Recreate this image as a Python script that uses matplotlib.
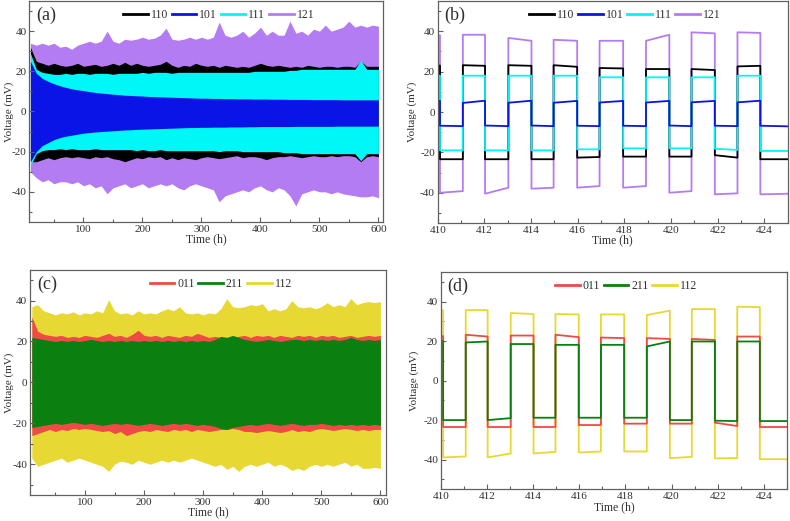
import matplotlib
matplotlib.use('Agg')
import matplotlib.pyplot as plt
from matplotlib.lines import Line2D
from matplotlib.ticker import MultipleLocator

plt.rcParams['font.family'] = ['Liberation Serif', 'DejaVu Serif']
plt.rcParams['font.size'] = 8
plt.rcParams['axes.unicode_minus'] = False

# ---- long-term cycling, envelopes sampled every 10 h (panels a, c) ----
t_env = list(range(10, 610, 10))

purple_hi = [34, 33, 34, 33, 34, 32, 32.5, 31, 33, 34, 35, 34, 35, 40, 35, 34, 36, 35.5, 36, 37,
             36, 36.5, 38, 41.5, 36, 35.5, 36, 37, 36, 37, 36, 37, 44.5, 38, 37, 38, 40, 37, 39, 42,
             38, 40, 38, 38, 45, 39, 40, 38, 41, 40, 43, 40, 41, 42, 45, 42, 43, 42, 43, 42.5]
purple_lo = [-30, -33, -35, -34, -36, -35, -35, -36, -35, -37, -36, -38, -37, -41, -38, -37, -36, -38, -37, -36,
             -38, -37, -36, -37, -36, -38, -39, -37, -36, -37, -38, -39, -45, -42, -41, -40, -39, -40, -38, -37,
             -39, -40, -38, -39, -42, -47, -41, -40, -39, -40, -40, -41, -40, -41, -41.5, -42, -42.5, -42.5, -42, -43]
black_hi = [32, 25, 24, 23, 24, 23, 22.5, 23, 24, 22.5, 23, 23.5, 22.5, 23, 24, 23, 24.5, 23, 24, 23,
            22.5, 23, 23.5, 25, 23, 22, 23, 22.5, 24, 23, 22.5, 23, 22, 23, 22.5, 22, 22.5, 22, 23, 24,
            23, 22.5, 23, 22.5, 22, 22.5, 22, 23, 22.5, 22, 22.5, 22.5, 22, 22.5, 22.5, 22, 25, 22.5, 22.5, 22.5]
black_lo = [-25, -25, -24, -23, -24, -23, -22.5, -23, -22.5, -23, -23.5, -22.5, -23, -22.5, -23.5, -24, -25, -24, -23, -23.5,
            -22.5, -23, -22.5, -24, -23, -24, -23, -23.5, -24, -23, -22.5, -23, -23.5, -23, -22.5, -22, -23, -22.5, -22.5, -23,
            -24, -23, -22.5, -22.5, -22, -22.5, -23, -22.5, -22, -22.5, -22.5, -22, -22.5, -22, -22, -22.5, -25, -22.5, -22, -22.5]
cyan_hi = [29, 21, 19.5, 19, 18.5, 18.5, 19, 18.5, 19, 19, 18.5, 19, 19, 19, 18.5, 19, 19, 19, 19, 19.5,
           19, 19.5, 19.5, 19.5, 19, 19.5, 19.5, 19.5, 19.5, 19.5, 19.5, 19.5, 19.5, 19.5, 19.5, 19.5, 19.5, 19.5, 20, 20,
           20, 20, 20, 20, 20.5, 20.5, 21, 21, 21, 21, 21, 21, 21, 21, 21, 21, 25.5, 21, 21, 21]
cyan_lo = [-27, -21, -19.5, -19, -19, -18.5, -19, -18.5, -19, -19, -19, -18.5, -19, -19, -19, -19, -19, -19, -19.5, -19,
           -19.5, -19.5, -19, -19.5, -19.5, -19.5, -19.5, -19.5, -19.5, -19.5, -19.5, -19.5, -20, -19.5, -19.5, -19.5, -20, -20, -20, -20,
           -20, -20, -20, -20.5, -20.5, -20.5, -21, -21, -21, -21, -21, -21, -21, -21, -21, -21, -24.5, -21, -21, -21]
blue_hi = [25, 19, 16.5, 15, 13.8, 12.8, 12, 11.3, 10.8, 10.4, 9.9, 9.5, 9.2, 8.9, 8.6, 8.4, 8.1, 8.0, 7.8, 7.7,
           7.5, 7.4, 7.3, 7.2, 7.1, 7.0, 6.9, 6.8, 6.7, 6.6, 6.6, 6.5, 6.5, 6.4, 6.4, 6.3, 6.3, 6.3, 6.2, 6.2,
           6.2, 6.1, 6.1, 6.1, 6.0, 6.0, 6.0, 6.0, 5.9, 5.9, 5.9, 5.9, 5.9, 5.8, 5.8, 5.8, 5.8, 5.8, 5.8, 5.8]
blue_lo = [-25, -20, -17, -15.5, -14, -13, -12.3, -11.8, -11.3, -10.8, -10.5, -10.2, -10.0, -9.8, -9.6, -9.4, -9.2, -9.1, -8.9, -8.8,
           -8.7, -8.6, -8.5, -8.4, -8.3, -8.2, -8.1, -8.0, -8.0, -7.9, -7.9, -7.8, -7.8, -7.8, -7.7, -7.7, -7.7, -7.6, -7.6, -7.5,
           -7.5, -7.5, -7.5, -7.5, -7.5, -7.4, -7.4, -7.4, -7.4, -7.4, -7.4, -7.4, -7.3, -7.3, -7.3, -7.3, -7.3, -7.3, -7.3, -7.3]

yellow_hi = [37, 38, 35, 34, 33, 34, 33.5, 34.5, 33, 34, 33.5, 35, 34, 40.5, 35, 33.5, 34, 33, 35, 33.5,
             34, 33.5, 35, 36, 35, 37, 34, 33.5, 34, 33, 34, 33.5, 36, 41, 37, 36.5, 37, 38, 37.5, 38.5,
             35, 36, 35, 36, 40, 37, 36.5, 37, 36, 37, 39, 37, 38, 37, 41, 38, 39, 39.5, 39, 39.5]
yellow_lo = [-37, -41, -40, -39, -38, -37, -39, -38, -37, -38, -39, -40, -41, -43.5, -40, -38.5, -39, -40, -38, -39,
             -40, -39, -38, -39, -38, -39, -38, -37, -38, -39, -40, -41, -40, -42.5, -41, -43.5, -41, -40, -41, -40,
             -39, -41, -40, -41, -43, -42, -43, -41, -40, -41, -40, -41, -40, -39, -41, -40, -42, -42, -41.5, -42]
red_hi = [32, 25, 23.5, 23, 22.5, 23, 22, 22.5, 22, 23, 22.5, 22, 23, 24, 22.5, 23, 22, 23.5, 25.5, 23,
          22.5, 23, 22, 23, 22.5, 22, 23, 22.5, 24, 23, 22, 22.5, 22, 21.5, 22, 22.5, 23, 22, 23, 22.5,
          23, 22, 23, 22.5, 22, 23, 22.5, 23, 22, 23, 22.5, 23, 22, 22.5, 23, 22, 22.5, 23, 22.5, 23]
red_lo = [-26, -25, -24, -23, -24, -23, -23.5, -22.5, -23, -22.5, -23, -23.5, -24, -23.5, -25, -24, -26, -25, -24, -23.5,
          -24, -23, -23.5, -24, -23, -23.5, -23, -24, -23, -23.5, -24, -23.5, -23, -23, -22.5, -23, -24, -24, -24.5, -24,
          -23.5, -24, -24.5, -24, -23, -24, -23.5, -24, -23, -22.5, -23, -23.5, -23, -22.5, -23, -23.5, -23, -23.5, -23, -23]
green_hi = [22, 21.5, 21, 20.5, 20, 20.5, 20, 20.5, 20, 20.5, 21, 20.5, 20, 20.5, 20, 20.5, 20, 20.5, 20, 20.5,
            20, 20.5, 20, 20.5, 20, 20.5, 20, 20.5, 20, 20.5, 20, 21, 22.5, 22, 23, 22, 21, 20.5, 20, 20.5,
            21, 20.5, 20, 20.5, 21, 21, 20.5, 21, 20.5, 21, 20.5, 21, 20.5, 21, 22, 21, 20.5, 21, 20.5, 21]
green_lo = [-22, -21.5, -21, -20.5, -20, -20.5, -20, -19.5, -20, -20.5, -20, -20.5, -21, -20.5, -20, -20.5, -20, -20.5, -21, -20.5,
            -20, -20.5, -21, -20.5, -20, -20.5, -20, -20.5, -21, -20.5, -21, -21.5, -22.5, -23, -22, -21.5, -21, -20.5, -21, -20.5,
            -20, -20.5, -21, -20.5, -20, -20.5, -21, -20.5, -20.5, -20, -20.5, -21, -20.5, -21, -20.5, -21, -20.5, -21, -20.5, -21]

# ---- zoomed window 410-425 h (panels b, d): switching times and segment levels ----
edges = [410.0, 410.1, 411.08, 412.03, 413.03, 414.02, 414.97, 415.98, 416.94,
         417.95, 418.93, 419.93, 420.88, 421.88, 422.85, 423.83, 425.0]

lv_110 = [(23, 23), (-23.4, -23.4), (23.2, 22.9), (-23.4, -23.4), (23.2, 22.9), (-23.4, -23.4),
          (23.2, 22.4), (-22.6, -22.3), (21.8, 21.6), (-22.1, -22.1), (21.3, 21.3), (-22.1, -22.1),
          (21.3, 20.8), (-21.4, -22.6), (22.6, 22.9), (-23.4, -23.4)]
lv_101 = [(5.5, 5.5), (-6.8, -7.0), (4.5, 5.6), (-6.7, -7.0), (4.6, 5.6), (-6.7, -7.0),
          (4.6, 5.5), (-6.8, -7.0), (4.7, 5.5), (-6.8, -7.0), (4.7, 5.5), (-6.7, -7.0),
          (4.8, 5.5), (-6.8, -7.0), (4.8, 5.6), (-6.8, -7.1)]
lv_111 = [(18, 18), (-19, -19), (18, 18), (-19, -19), (18, 18), (-19, -19),
          (18, 18), (-18.5, -18.5), (17.2, 17.2), (-18, -18), (17.2, 17.2), (-18, -18),
          (17.2, 17.2), (-18.2, -18.8), (18, 18), (-19.3, -19.3)]
lv_121 = [(38, 38), (-40, -39.2), (38.3, 38.3), (-40.5, -37.5), (36.7, 35.3), (-38, -37.5),
          (35.8, 35.3), (-37.5, -36.7), (35.3, 35.3), (-37.5, -36.7), (35.3, 38.3), (-40, -39.2),
          (39.5, 39), (-40.8, -40.3), (39.5, 39.2), (-40.8, -40.5)]

lv_011 = [(22.5, 22.5), (-23.5, -23.5), (23.2, 22.3), (-23.5, -23.5), (22.8, 22.8), (-23.5, -23.5),
          (23.2, 22), (-22.5, -22.5), (21.8, 21.5), (-21.8, -21.8), (21.5, 21.1), (-21.8, -21.8),
          (21.1, 20.6), (-21.3, -23), (22.3, 22.3), (-23.5, -23.5)]
lv_211 = [(20, 20), (-20, -20), (19.3, 19.8), (-20, -19), (18.5, 18.5), (-18.8, -18.8),
          (18.1, 18.1), (-18.8, -18.8), (18.1, 18.1), (-18.8, -18.8), (17.3, 19.8), (-20, -20),
          (19.8, 19.8), (-20.3, -20.5), (19.8, 19.8), (-20.5, -20.5)]
lv_112 = [(35.7, 35.7), (-38.9, -38.4), (35.7, 35.7), (-38.9, -36.9), (34.2, 33.7), (-36.9, -36.1),
          (33.7, 33.5), (-36.4, -35.9), (33.5, 33.5), (-35.9, -35.9), (33.2, 35.4), (-39.3, -38.6),
          (36.2, 36.2), (-39.4, -39.2), (37.4, 37.2), (-39.8, -39.8)]

c_black = '#000000'
c_blue = '#0a14e6'
c_cyan = '#00f7f7'
c_purple = '#b47cf2'
c_red = '#f04a46'
c_green = '#0a8010'
c_yellow = '#e8d833'
txt = '#303030'
spine = '#606060'


def square(lv):
    xs, ys = [], []
    for k in range(len(lv)):
        xs += [edges[k], edges[k + 1]]
        ys += [lv[k][0], lv[k][1]]
    return xs, ys


def style(ax, major, minor, xlim, ylab_x):
    ax.set_xlim(*xlim)
    ax.set_ylim(-55, 55)
    ax.xaxis.set_major_locator(MultipleLocator(major))
    ax.xaxis.set_minor_locator(MultipleLocator(minor))
    ax.yaxis.set_major_locator(MultipleLocator(20))
    ax.yaxis.set_minor_locator(MultipleLocator(10))
    ax.tick_params(which='both', direction='in', color=spine, labelcolor=txt,
                   labelsize=8, width=0.8, pad=2)
    ax.tick_params(which='major', length=3.5)
    ax.tick_params(which='minor', length=2)
    for s in ax.spines.values():
        s.set_color(spine)
        s.set_linewidth(0.9)
    ax.set_xlabel('Time (h)', fontsize=8.5, color=txt, labelpad=0)
    ax.set_ylabel('Voltage (mV)', fontsize=8, color=txt)
    ax.yaxis.set_label_coords(ylab_x, 0.5)


def legend(ax, names, colors):
    hs = [Line2D([], [], color=c, lw=2) for c in colors]
    ax.legend(hs, names, loc='upper center', bbox_to_anchor=(0.535, 1.01), ncol=len(names),
              frameon=False, fontsize=8.5, handlelength=2.1, handletextpad=0.25,
              columnspacing=0.3, labelcolor=txt)


fig = plt.figure(figsize=(7.9, 5.21), dpi=100)

ax_a = fig.add_axes([0.037, 0.574, 0.448, 0.424])
ax_b = fig.add_axes([0.554, 0.572, 0.443, 0.426])
ax_c = fig.add_axes([0.038, 0.050, 0.451, 0.432])
ax_d = fig.add_axes([0.558, 0.061, 0.438, 0.417])

# (a)
for lo, hi, c in [(purple_lo, purple_hi, c_purple), (black_lo, black_hi, c_black),
                  (cyan_lo, cyan_hi, c_cyan), (blue_lo, blue_hi, c_blue)]:
    ax_a.fill_between(t_env, lo, hi, color=c, lw=0)
style(ax_a, 100, 50, (8, 608), -0.044)
legend(ax_a, ['110', '101', '111', '121'], [c_black, c_blue, c_cyan, c_purple])

# (b)
for lv, c in [(lv_121, c_purple), (lv_110, c_black), (lv_111, c_cyan), (lv_101, c_blue)]:
    x, y = square(lv)
    ax_b.plot(x, y, color=c, lw=1.3)
style(ax_b, 2, 1, (410, 425), -0.06)
legend(ax_b, ['110', '101', '111', '121'], [c_black, c_blue, c_cyan, c_purple])

# (c)
for lo, hi, c in [(yellow_lo, yellow_hi, c_yellow), (red_lo, red_hi, c_red),
                  (green_lo, green_hi, c_green)]:
    ax_c.fill_between(t_env, lo, hi, color=c, lw=0)
style(ax_c, 100, 50, (7, 610), -0.046)
legend(ax_c, ['011', '211', '112'], [c_red, c_green, c_yellow])

# (d)
for lv, c in [(lv_112, c_yellow), (lv_011, c_red), (lv_211, c_green)]:
    x, y = square(lv)
    ax_d.plot(x, y, color=c, lw=1.3)
style(ax_d, 2, 1, (410, 425), -0.064)
legend(ax_d, ['011', '211', '112'], [c_red, c_green, c_yellow])

for ax, lab in [(ax_a, '(a)'), (ax_b, '(b)'), (ax_c, '(c)'), (ax_d, '(d)')]:
    ax.text(0.02, 0.975, lab, transform=ax.transAxes, ha='left', va='top',
            fontsize=13, color=txt)

fig.savefig('out.png', dpi=100)
